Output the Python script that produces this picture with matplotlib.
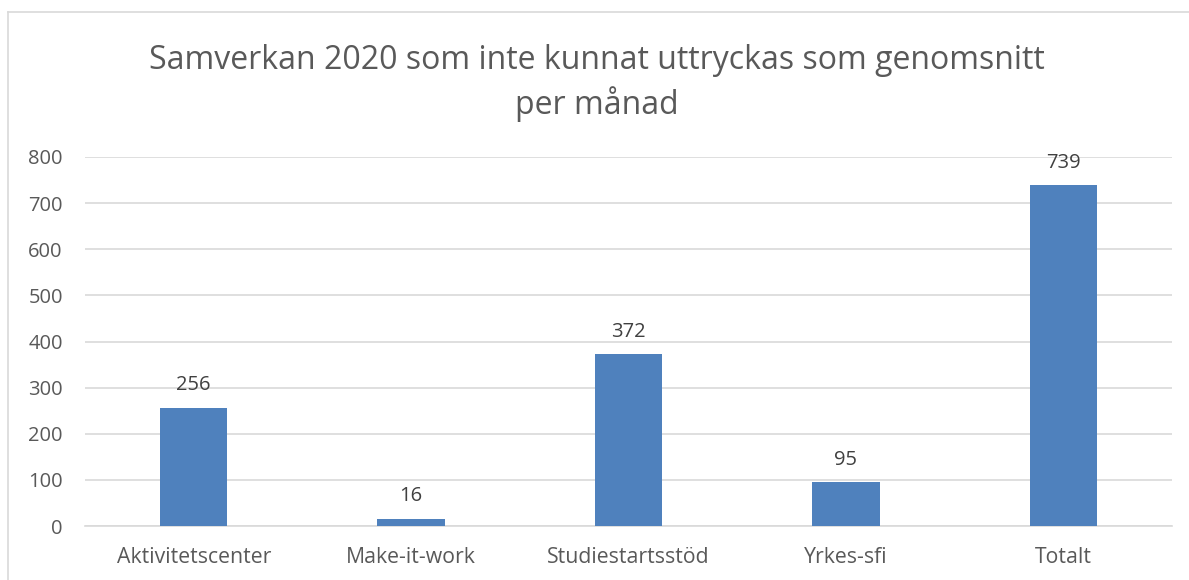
import matplotlib.pyplot as plt
from matplotlib.lines import Line2D

categories = ["Aktivitetscenter", "Make-it-work", "Studiestartsstöd", "Yrkes-sfi", "Totalt"]
values = [256, 16, 372, 95, 739]
yticks = [0, 100, 200, 300, 400, 500, 600, 700, 800]
title = "Samverkan 2020 som inte kunnat uttryckas som genomsnitt\nper månad"

plt.rcParams['font.family'] = ['Open Sans', 'DejaVu Sans']

fig = plt.figure(figsize=(11.89, 5.8), dpi=100)
W, H = 1189, 580
ax = fig.add_axes([85 / W, 1 - 526 / H, (1172 - 85) / W, (526 - 157) / H])

x = range(len(categories))
ax.bar(x, values, width=0.31, color="#4f81bd", zorder=3)
for xi, v in zip(x, values):
    ax.annotate(str(v), (xi, v), xytext=(0, 9), textcoords="offset points",
                ha="center", va="bottom", fontsize=14.5, color="#404040")

ax.set_xlim(-0.5, len(categories) - 0.5)
ax.set_ylim(0, 800)
ax.set_yticks(yticks)
ax.set_xticks(list(x))
ax.set_xticklabels(categories, fontsize=15.3)
ax.tick_params(axis="both", length=0, labelcolor="#595959")
ax.tick_params(axis="y", labelsize=14.5, pad=16)
ax.tick_params(axis="x", pad=15)
ax.grid(axis="y", color="#d9d9d9", linewidth=1.2, zorder=0)
for s in ["top", "right", "left"]:
    ax.spines[s].set_visible(False)
ax.spines["bottom"].set_color("#d9d9d9")
ax.spines["bottom"].set_linewidth(1.2)

fig.text(597 / W, 1 - 83 / H, title, ha="center", va="center",
         fontsize=23, color="#595959", linespacing=1.3)

# chart frame
fig.add_artist(Line2D([8 / W, 8 / W], [0, 1 - 12 / H], color="#d9d9d9", linewidth=1.2))
fig.add_artist(Line2D([8 / W, 1], [1 - 12 / H, 1 - 12 / H], color="#d9d9d9", linewidth=1.2))

fig.savefig("out.png", dpi=100)
